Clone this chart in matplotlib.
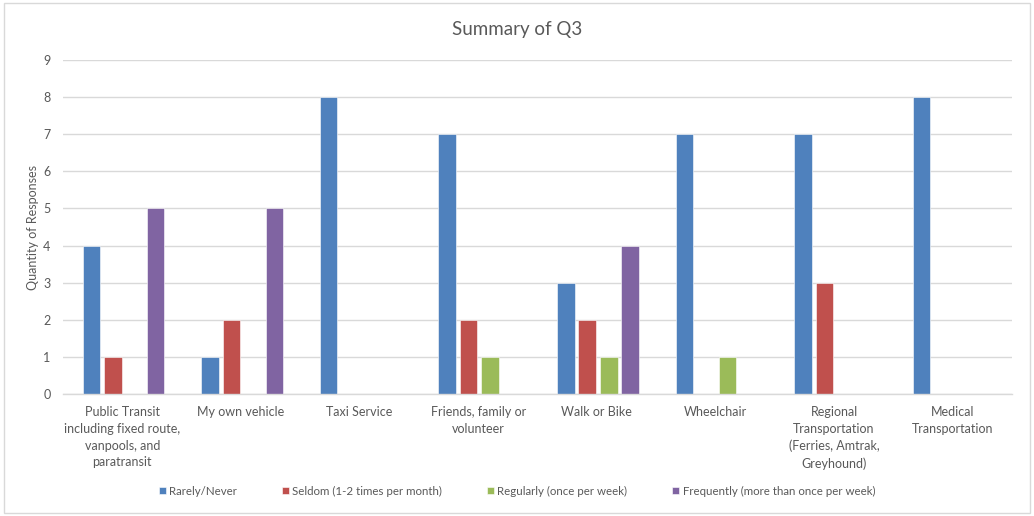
import numpy as np
import matplotlib.pyplot as plt

categories = ['Public Transit\nincluding fixed route,\nvanpools, and\nparatransit',
              'My own vehicle', 'Taxi Service', 'Friends, family or\nvolunteer',
              'Walk or Bike', 'Wheelchair',
              'Regional\nTransportation\n(Ferries, Amtrak,\nGreyhound)',
              'Medical\nTransportation']
rarely = [4, 1, 8, 7, 3, 7, 7, 8]
seldom = [1, 2, 0, 2, 2, 0, 3, 0]
regularly = [0, 0, 0, 1, 1, 1, 0, 0]
frequently = [5, 5, 0, 0, 4, 0, 0, 0]

series = [
    ('Rarely/Never', rarely, '#4F81BD'),
    ('Seldom (1-2 times per month)', seldom, '#C0504D'),
    ('Regularly (once per week)', regularly, '#9BBB59'),
    ('Frequently (more than once per week)', frequently, '#8064A2'),
]

plt.rcParams['font.family'] = ['Lato', 'DejaVu Sans']
txt = '#595959'

fig = plt.figure(figsize=(10.34, 5.16), dpi=100)
ax = fig.add_axes([63 / 1034, 1 - 394 / 516, (1012 - 63) / 1034, (394 - 60) / 516])

x = np.arange(len(categories))
step = 0.181
width = 0.148
for i, (name, vals, col) in enumerate(series):
    vals = np.array(vals, dtype=float)
    h = np.where(vals > 0, vals, np.nan)
    ax.bar(x + (i - 1.5) * step + 0.01, h, width, color=col, label=name,
           edgecolor='white', linewidth=0.4)

ax.set_xlim(-0.5, len(categories) - 0.5)
ax.set_ylim(0, 9)
ax.set_yticks(range(10))
ax.set_xticks(x)
ax.set_xticklabels(categories, fontsize=9, color=txt, linespacing=1.45)
ax.tick_params(axis='y', labelsize=9, colors=txt, length=0, pad=9)
ax.tick_params(axis='x', length=0, pad=9)
ax.yaxis.grid(True, color='#D9D9D9', linewidth=1)
ax.set_axisbelow(True)
for s in ['top', 'right', 'left']:
    ax.spines[s].set_visible(False)
ax.spines['bottom'].set_color('#D9D9D9')
ax.spines['bottom'].set_linewidth(1)

ax.set_ylabel('Quantity of Responses', fontsize=9, color=txt, labelpad=3)
fig.text(0.5, 1 - 29 / 516, 'Summary of Q3', ha='center', va='center',
         fontsize=13.5, color=txt)

leg = fig.legend(loc='center', bbox_to_anchor=(0.5, 1 - 491 / 516), ncol=4,
                 frameon=False, fontsize=8.3, handlelength=0.6, handleheight=0.6,
                 columnspacing=3.9, handletextpad=0.3)
for t in leg.get_texts():
    t.set_color(txt)

fig.add_artist(plt.Rectangle((0.004, 0.006), 0.992, 0.988, transform=fig.transFigure,
                             fill=False, edgecolor='#D9D9D9', linewidth=1))

fig.savefig('out.png', dpi=100)
